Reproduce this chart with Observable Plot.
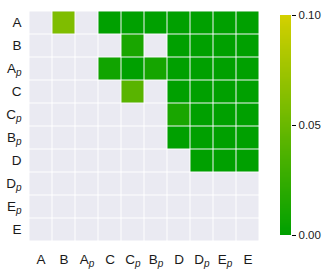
<!DOCTYPE html>
<html><head><meta charset="utf-8">
<script src="https://cdn.jsdelivr.net/npm/d3@7"></script>
<script src="https://cdn.jsdelivr.net/npm/@observablehq/plot@0.6"></script>
<style>
body{margin:0;background:#fff;}
#wrap{position:relative;width:332px;height:278px;font-family:"Liberation Sans",Arial,sans-serif;}
#wrap svg{position:absolute;left:0;top:0;overflow:visible;}
#wrap svg text{font-family:"Liberation Sans",Arial,sans-serif;fill:#1a1a1a;}
#heat text{font-size:13.5px;}
#heat text tspan.sub{font-size:10px;font-style:italic;}
#bar text{font-size:11.5px;}
</style></head>
<body><div id="wrap"></div>
<script>
const labels = ["A","B","Ap","C","Cp","Bp","D","Dp","Ep","E"];
const rowA  = [null, 0.060, null, 0.000, 0.000, 0.000, 0.000, 0.000, 0.000, 0.000];
const rowB  = [null, null, null, null, 0.012, null, 0.000, 0.000, 0.000, 0.000];
const rowAp = [null, null, null, 0.008, 0.000, 0.010, 0.000, 0.000, 0.000, 0.000];
const rowC  = [null, null, null, null, 0.042, null, 0.000, 0.000, 0.000, 0.000];
const rowCp = [null, null, null, null, null, null, 0.012, 0.000, 0.000, 0.000];
const rowBp = [null, null, null, null, null, null, 0.000, 0.000, 0.000, 0.000];
const rowD  = [null, null, null, null, null, null, null, 0.000, 0.000, 0.000];
const rowDp = [null, null, null, null, null, null, null, null, null, null];
const rowEp = [null, null, null, null, null, null, null, null, null, null];
const rowE  = [null, null, null, null, null, null, null, null, null, null];
const rows = [rowA,rowB,rowAp,rowC,rowCp,rowBp,rowD,rowDp,rowEp,rowE];
const colorTicks = [0, 0.05, 0.10];
const cmin = 0, cmax = 0.10;

const cells = [];
rows.forEach((r,i)=>r.forEach((v,j)=>cells.push({row:labels[i], col:labels[j], v})));
const colorOpt = {type:"linear", domain:[cmin,cmax], range:["#00a000","#d4d000"], interpolate:"rgb"};

const heat = Plot.plot({
  width:332, height:278,
  marginLeft:27, marginRight:71, marginTop:8, marginBottom:35,
  style:{background:"transparent"},
  x:{domain:labels, padding:0, axis:null},
  y:{domain:labels, padding:0, axis:null},
  color:colorOpt,
  marks:[
    Plot.cell(cells, {x:"col", y:"row", fill:"#eaeaf2", inset:0.5}),
    Plot.cell(cells.filter(d=>d.v!=null), {x:"col", y:"row", fill:"v", inset:0.5}),
    Plot.axisX({tickSize:0, tickPadding:11, label:null}),
    Plot.axisY({tickSize:0, tickPadding:6, label:null})
  ]
});
heat.id = "heat";

const step = 0.0005;
const slices = d3.range(cmin, cmax, step).map(v=>({v0:v, v1:Math.min(cmax, v+step*1.6), v}));
const bar = Plot.plot({
  width:332, height:278,
  marginLeft:280, marginRight:41, marginTop:15, marginBottom:43,
  style:{background:"transparent"},
  x:{domain:[0,1], axis:null},
  y:{domain:[cmin,cmax], axis:null},
  color:colorOpt,
  marks:[
    Plot.rect(slices, {x1:0, x2:1, y1:"v0", y2:"v1", fill:"v", shapeRendering:"crispEdges"}),
    Plot.axisY({anchor:"right", ticks:colorTicks, tickFormat:d3.format(".2f"), tickSize:4, tickPadding:3, label:null})
  ]
});
bar.id = "bar";

const wrap = document.getElementById("wrap");
wrap.appendChild(heat);
wrap.appendChild(bar);

// subscript p labels
d3.select(heat).selectAll("text").each(function(){
  const t = this.textContent;
  if (t.length===2 && t[1]==="p") {
    const s = d3.select(this);
    s.text(t[0]);
    s.append("tspan").attr("class","sub").attr("dy","0.3em").text("p");
  }
});
</script>
</body></html>
